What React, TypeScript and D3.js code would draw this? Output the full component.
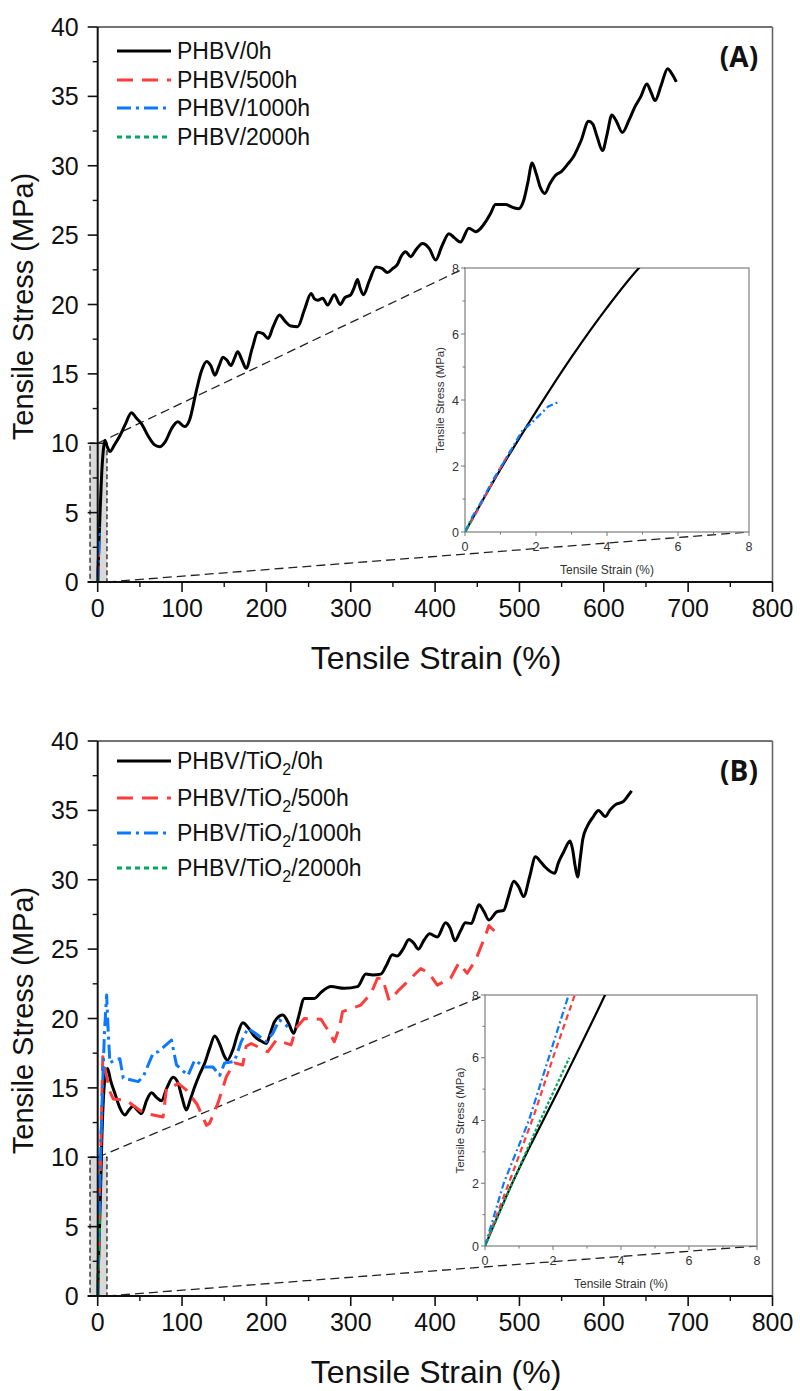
import React from "react";
import * as d3 from "d3";

type Pt = [number, number];

// ---------- Panel (A) data: PHBV ----------
const phbv0h: Pt[] = [
  [0, 0], [1, 1.9], [2, 3.65], [3, 5.3], [4, 6.8], [4.9, 8], [6.5, 9.4], [8.6, 10.2], [11, 9.8], [14.5, 9.4],
  [20, 9.9], [26, 10.5], [33, 11.4], [40, 12.2], [46, 11.8], [52, 11.4], [60, 10.5], [67, 9.9], [73.6, 9.75],
  [80, 10.1], [88, 11.1], [95, 11.55], [103, 11.2], [109, 11.7], [117, 13.8], [123, 15.2], [129, 15.9],
  [134, 15.6], [139, 14.9], [144, 15.6], [148.5, 16.2], [153, 16.0], [158, 15.6], [162, 16.1], [166, 16.6],
  [171, 16.0], [176, 15.4], [183, 16.8], [190, 18.0], [196, 17.9], [202, 17.55], [208, 18.4], [215.5, 19.25],
  [222, 18.8], [229, 18.45], [237, 18.4], [245, 19.6], [253, 20.8], [257, 20.4], [261, 20.3], [266.7, 20.45],
  [272.6, 19.96], [280.5, 20.7], [287.6, 20.0], [293, 20.5], [300, 20.7], [304, 21.2], [308, 21.8], [311, 21.2],
  [315, 20.7], [322, 21.7], [330, 22.7], [337, 22.6], [343.5, 22.3], [350, 22.6], [355, 22.85], [360, 23.5],
  [365, 23.8], [371, 23.45], [378, 24.0], [385, 24.4], [393, 24.05], [400.7, 23.2], [408, 24.2], [416.4, 25.1],
  [423, 24.8], [430, 24.5], [440, 25.5], [448, 25.25], [460, 25.97], [466, 26.6], [471.6, 27.2], [483.5, 27.2],
  [492, 27.0], [499, 26.9], [505, 27.5], [510, 28.8], [515, 30.2], [520, 29.4], [525, 28.4], [530, 28.0],
  [536, 28.7], [542.6, 29.3], [550, 29.6], [557, 30.1], [564, 30.65], [573, 31.8], [582, 33.2], [587, 33.0],
  [592, 32.1], [598.5, 31.1], [604, 32.3], [609.5, 33.66], [615, 33.2], [622, 32.4], [630, 33.3], [637, 34.26],
  [644, 35.0], [651, 35.9], [656, 35.3], [660.8, 34.7], [668, 35.8], [675.7, 37.0], [680, 36.7], [686, 36.05],
];
const phbv500h: Pt[] = [[0, 0], [0.3, 0.55], [0.7, 1.35], [1.0, 1.95], [1.3, 2.5]];
const phbv1000h: Pt[] = [
  [0, 0], [0.2, 0.45], [0.4, 0.8], [0.8, 1.6], [1.2, 2.3], [1.6, 3.05], [1.87, 3.3], [2.34, 3.8], [2.65, 3.95],
];
const phbv2000h: Pt[] = [[0, 0], [0.2, 0.38]];

// ---------- Panel (B) data: PHBV/TiO2 ----------
const tio0h: Pt[] = [
  [0, 0], [0.8, 2], [2.2, 5.05], [3.53, 8], [5, 11.5], [7, 14.5], [9, 15.9], [11.8, 16.4], [15, 15.6],
  [20.4, 14.6], [26, 13.6], [32.3, 13.05], [37, 13.4], [42, 13.7], [47, 13.4], [52, 13.15], [58, 14.1],
  [63.8, 14.65], [70, 14.3], [75.6, 14.07], [82, 15.0], [89.4, 15.76], [95.3, 15.33], [100, 14.3], [105, 13.4],
  [110, 14.2], [115, 15.08], [121, 16.0], [126.8, 16.77], [133, 17.9], [138.7, 18.74], [145, 18.1], [150, 17.3],
  [153.7, 17.0], [160, 17.7], [166, 18.9], [172, 19.7], [179, 19.3], [186, 18.7], [193, 18.4], [199.8, 18.2],
  [205, 19.0], [209.6, 19.77], [219.4, 20.25], [226, 19.7], [232.4, 18.93], [238, 20.1], [245, 21.45],
  [256.9, 21.45], [265, 21.9], [276.6, 22.3], [292.3, 22.18], [308, 22.3], [318, 23.2], [325.8, 23.14],
  [335.7, 23.2], [342, 23.8], [349.4, 24.6], [355, 24.5], [362, 25.0], [369, 25.7], [375, 25.4], [380, 25.0],
  [387, 25.66], [393.6, 26.1], [402.6, 25.87], [412.5, 26.9], [418, 26.5], [423.5, 25.6], [430, 26.3],
  [436, 26.9], [443, 26.85], [448, 27.6], [452, 28.2], [458, 27.7], [463.7, 27.1], [473.5, 27.7], [481.4, 27.8],
  [487, 28.8], [493.3, 29.9], [499, 29.5], [505, 28.8], [512, 30.2], [519, 31.65], [525, 31.3], [530.7, 30.9],
  [541.7, 30.46], [546, 31.2], [552.4, 32.0], [560, 32.8], [563, 32.2], [566, 31.0], [569, 30.2], [572, 31.5],
  [575, 32.9], [580, 33.8], [587, 34.5], [593.7, 35.0], [601.7, 34.55], [607, 35.0], [613.5, 35.4],
  [623.3, 35.65], [628, 36.0], [633, 36.4],
];
const tio500h: Pt[] = [
  [0, 0], [0.7, 2], [1.45, 4.2], [2.0, 6], [2.64, 8], [4, 11.5], [6, 17.25], [10, 16.0], [14, 14.8],
  [18.4, 14.2], [34, 14.1], [54, 13.2], [77.5, 12.9], [81.5, 14.97], [89.4, 15.1], [95.3, 15.33], [105, 14.85],
  [118, 13.8], [129, 12.3], [132.7, 12.45], [142.6, 13.9], [152.5, 15.8], [162, 16.8], [172, 16.65], [176, 18.0],
  [182, 18.2], [201.6, 17.6], [211.6, 18.45], [229.3, 18.1], [235, 19.3], [245, 20.0], [264.8, 19.94],
  [272.6, 19.2], [280.5, 18.33], [286.4, 19.3], [290.3, 20.5], [312, 20.97], [323.9, 21.8], [331.7, 22.9],
  [337.6, 22.9], [345.5, 21.3], [357, 22.05], [373, 23.0], [383, 23.6], [392.8, 23.26], [402.6, 22.4],
  [418.4, 22.9], [428, 24.0], [438, 23.26], [448, 24.2], [459.8, 26.0], [463.7, 26.7], [473.5, 26.1],
];
const tio1000h: Pt[] = [
  [0, 0], [0.55, 2], [1.29, 4], [2.46, 8], [4, 11.5], [6, 15.5], [8, 19], [10.6, 21.7], [12.5, 19], [14.5, 16.8],
  [20, 17.0], [26.3, 17.1], [30.3, 15.7], [48, 15.45], [54, 15.8], [65.7, 17.5], [71.5, 17.6], [87.5, 18.45],
  [91.4, 17.25], [93.4, 16.65], [107, 15.9], [115, 17.0], [126.8, 16.5], [136.6, 16.5], [144.6, 15.9],
  [150.5, 16.8], [162, 16.9], [170, 18.3], [178, 19.3], [190, 18.8], [199.8, 18.33], [207.6, 18.93],
  [215.5, 19.9], [225.3, 19.4],
];
const tio2000h: Pt[] = [[0, 0], [0.78, 1.95], [1.6, 3.95], [2.48, 6]];

// ---------- Labels & ticks ----------
const legendA = ["PHBV/0h", "PHBV/500h", "PHBV/1000h", "PHBV/2000h"];
const legendHours = ["0h", "500h", "1000h", "2000h"];
const mainYTicks = [0, 5, 10, 15, 20, 25, 30, 35, 40];
const mainXTicks = [0, 100, 200, 300, 400, 500, 600, 700, 800];
const insetTicks = [0, 2, 4, 6, 8];
const zoomBox = { x0: -9.1, x1: 11, y0: 0, y1: 10 };

const COLORS = ["#000000", "#ff3b3b", "#0a78ff", "#00a85a"];
const MAIN_DASH = ["", "16 9", "14 5 3 5", "5 4"];
const INSET_DASH = ["", "6 4", "7 3 2 3", "3 2"];
const FONT = "'Liberation Sans', Arial, sans-serif";

interface PanelProps {
  series: Pt[][];
  top: number;
  bottom: number;
  letter: string;
  legendTiO2: boolean;
  legendRows: number[];
  inset: { x0: number; x1: number; y0: number; y1: number };
  id: string;
}

function Panel({ series, top, bottom, letter, legendTiO2, legendRows, inset, id }: PanelProps) {
  const x = d3.scaleLinear().domain([0, 800]).range([97.7, 772.5]);
  const y = d3.scaleLinear().domain([0, 40]).range([bottom, top]);
  const ix = d3.scaleLinear().domain([0, 8]).range([inset.x0, inset.x1]);
  const iy = d3.scaleLinear().domain([0, 8]).range([inset.y1, inset.y0]);

  const lineMain = d3.line<Pt>().x((d) => x(d[0])).y((d) => y(d[1]));
  const lineInset = d3.line<Pt>().x((d) => ix(d[0])).y((d) => iy(d[1]));
  const smoothMain = d3.line<Pt>().x((d) => x(d[0])).y((d) => y(d[1])).curve(d3.curveMonotoneX);
  const smoothInset = d3.line<Pt>().x((d) => ix(d[0])).y((d) => iy(d[1])).curve(d3.curveMonotoneX);

  const minorY = d3.range(2.5, 40, 5);
  const minorX = d3.range(50, 800, 100);
  const insetMinor = [1, 3, 5, 7];

  const bx0 = x(zoomBox.x0), bx1 = x(zoomBox.x1), by0 = y(zoomBox.y0), by1 = y(zoomBox.y1);

  return (
    <g>
      <defs>
        <clipPath id={`clip-${id}`}>
          <rect x={inset.x0} y={inset.y0} width={inset.x1 - inset.x0} height={inset.y1 - inset.y0} />
        </clipPath>
      </defs>
      {/* frame top / right */}
      <line x1={x(0)} x2={x(800)} y1={top} y2={top} stroke="#444" strokeWidth={1.6} />
      <line x1={x(800)} x2={x(800)} y1={top} y2={bottom} stroke="#666" strokeWidth={1.6} />

      {/* zoom box */}
      <rect x={bx0} y={by1} width={bx1 - bx0} height={by0 - by1} fill="#d9d9d9" stroke="#222" strokeWidth={1.3} strokeDasharray="5 3" />
      {/* connector lines */}
      <line x1={x(0)} y1={by1} x2={inset.x0} y2={inset.y0} stroke="#222" strokeWidth={1.3} strokeDasharray="9 5" />
      <line x1={bx1} y1={by0} x2={inset.x1} y2={inset.y1} stroke="#222" strokeWidth={1.3} strokeDasharray="9 5" />

      {/* main curves */}
      {series.map((s, i) => (
        <path key={i} d={(i === 0 ? smoothMain(s) : lineMain(s)) || ""} fill="none" stroke={COLORS[i]}
          strokeWidth={3} strokeDasharray={MAIN_DASH[i]} strokeLinejoin="round" />
      ))}

      {/* main axes */}
      <line x1={x(0)} x2={x(0)} y1={top} y2={bottom} stroke="#111" strokeWidth={2} />
      <line x1={x(0) - 10} x2={x(800)} y1={bottom} y2={bottom} stroke="#111" strokeWidth={2} />
      {mainYTicks.map((t) => (
        <g key={t}>
          <line x1={x(0) - 10} x2={x(0)} y1={y(t)} y2={y(t)} stroke="#111" strokeWidth={1.6} />
          <text x={x(0) - 19} y={y(t) + 9} textAnchor="end" fontSize={25} fontFamily={FONT} fill="#111">{t}</text>
        </g>
      ))}
      {minorY.map((t) => (
        <line key={t} x1={x(0) - 5} x2={x(0)} y1={y(t)} y2={y(t)} stroke="#111" strokeWidth={1.4} />
      ))}
      {mainXTicks.map((t) => (
        <g key={t}>
          <line x1={x(t)} x2={x(t)} y1={bottom} y2={bottom + 10} stroke="#111" strokeWidth={1.6} />
          <text x={x(t)} y={bottom + 35} textAnchor="middle" fontSize={25} fontFamily={FONT} fill="#111">{t}</text>
        </g>
      ))}
      {minorX.map((t) => (
        <line key={t} x1={x(t)} x2={x(t)} y1={bottom} y2={bottom + 5} stroke="#111" strokeWidth={1.4} />
      ))}
      <text transform={`translate(33,${(top + bottom) / 2 + 2}) rotate(-90)`} textAnchor="middle" fontSize={29}
        fontFamily={FONT} fill="#111">Tensile Stress (MPa)</text>
      <text x={436} y={bottom + 87} textAnchor="middle" fontSize={32} fontFamily={FONT} fill="#111">Tensile Strain (%)</text>

      {/* legend */}
      {legendRows.map((ry, i) => (
        <g key={i}>
          <line x1={117} x2={171} y1={ry} y2={ry} stroke={COLORS[i]} strokeWidth={3} strokeDasharray={MAIN_DASH[i]} />
          {legendTiO2 ? (
            <text x={177} y={ry + 8} fontSize={23} fontFamily={FONT} fill="#111">
              PHBV/TiO<tspan fontSize={16} dy={6}>2</tspan><tspan dy={-6}>/{legendHours[i]}</tspan>
            </text>
          ) : (
            <text x={177} y={ry + 8} fontSize={23} fontFamily={FONT} fill="#111">{legendA[i]}</text>
          )}
        </g>
      ))}

      {/* panel letter */}
      <text x={739} y={top + 40} textAnchor="middle" fontSize={28} fontWeight={700} fontFamily="'Open Sans', sans-serif" fill="#111">{letter}</text>

      {/* inset */}
      <rect x={inset.x0} y={inset.y0} width={inset.x1 - inset.x0} height={inset.y1 - inset.y0} fill="#fff" stroke="#888" strokeWidth={1.3} />
      <g clipPath={`url(#clip-${id})`}>
        {series.map((s, i) => (
          <path key={i} d={(i === 0 ? smoothInset(s) : lineInset(s)) || ""} fill="none" stroke={COLORS[i]}
            strokeWidth={2.2} strokeDasharray={INSET_DASH[i]} strokeLinejoin="round" />
        ))}
      </g>
      {insetTicks.map((t) => (
        <g key={t}>
          <line x1={inset.x0 - 4} x2={inset.x0} y1={iy(t)} y2={iy(t)} stroke="#777" strokeWidth={1} />
          <text x={inset.x0 - 6} y={iy(t) + 4.5} textAnchor="end" fontSize={12.5} fontFamily={FONT} fill="#333">{t}</text>
          <line x1={ix(t)} x2={ix(t)} y1={inset.y1} y2={inset.y1 + 4} stroke="#777" strokeWidth={1} />
          <text x={ix(t)} y={inset.y1 + 19} textAnchor="middle" fontSize={12.5} fontFamily={FONT} fill="#333">{t}</text>
        </g>
      ))}
      {insetMinor.map((t) => (
        <g key={t}>
          <line x1={inset.x0 - 2.5} x2={inset.x0} y1={iy(t)} y2={iy(t)} stroke="#777" strokeWidth={1} />
          <line x1={ix(t)} x2={ix(t)} y1={inset.y1} y2={inset.y1 + 2.5} stroke="#777" strokeWidth={1} />
        </g>
      ))}
      <text transform={`translate(${inset.x0 - 21},${(inset.y0 + inset.y1) / 2}) rotate(-90)`} textAnchor="middle"
        fontSize={11.5} fontFamily={FONT} fill="#333">Tensile Stress (MPa)</text>
      <text x={(inset.x0 + inset.x1) / 2} y={inset.y1 + 42} textAnchor="middle" fontSize={12} fontFamily={FONT} fill="#333">Tensile Strain (%)</text>
    </g>
  );
}

export default function App() {
  return (
    <svg width={800} height={1391} viewBox="0 0 800 1391"
      style={{ position: "absolute", left: 0, top: 0, background: "#fff" }}>
      <rect x={0} y={0} width={800} height={1391} fill="#fff" />
      <Panel id="a" series={[phbv0h, phbv500h, phbv1000h, phbv2000h]} top={27} bottom={582} letter="(A)"
        legendTiO2={false} legendRows={[51, 80, 108, 137]} inset={{ x0: 465, x1: 749, y0: 268, y1: 532 }} />
      <Panel id="b" series={[tio0h, tio500h, tio1000h, tio2000h]} top={741} bottom={1296} letter="(B)"
        legendTiO2={true} legendRows={[761, 798, 833, 868]} inset={{ x0: 485, x1: 757, y0: 995, y1: 1246 }} />
    </svg>
  );
}
